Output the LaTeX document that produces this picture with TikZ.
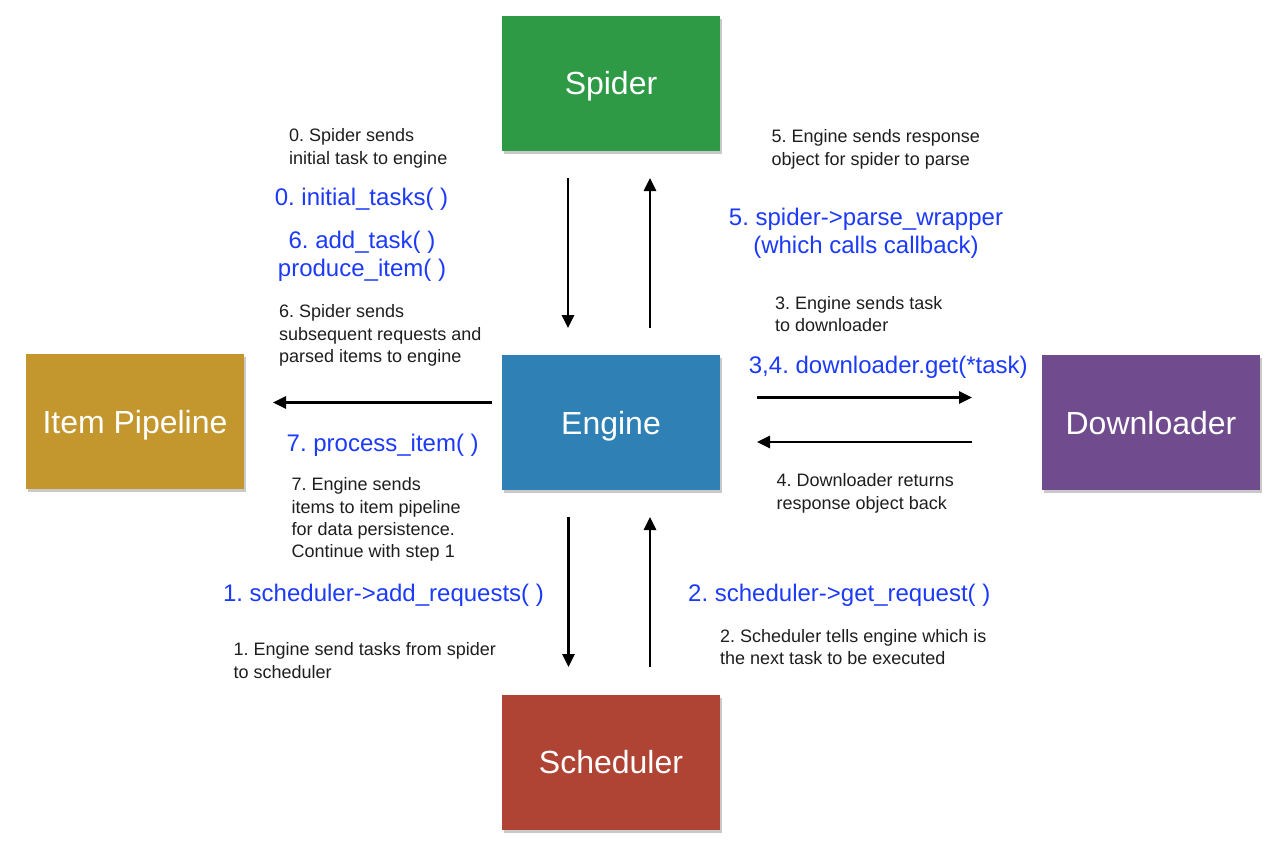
\documentclass[tikz,border=0pt]{standalone}
\usepackage{fontspec}
\setmainfont{Liberation Sans}
\usetikzlibrary{arrows.meta,shadows}
\frenchspacing
\definecolor{cspider}{RGB}{46,154,70}
\definecolor{cengine}{RGB}{47,128,181}
\definecolor{cpipe}{RGB}{196,151,46}
\definecolor{cdown}{RGB}{112,76,143}
\definecolor{csched}{RGB}{176,68,52}
\definecolor{cblue}{RGB}{28,58,250}
\definecolor{cdark}{RGB}{30,30,30}
\tikzset{
  comp/.style={rectangle, fill=#1, minimum width=218pt, minimum height=135pt,
    inner sep=0pt, text=white, font=\fontsize{32}{38}\selectfont,
    text height=23pt, text depth=0pt,
    drop shadow={shadow xshift=2pt, shadow yshift=-3pt, opacity=0.35, fill=black!60}},
  note/.style={anchor=north west, inner sep=0pt, align=left, text=cdark,
    font=\fontsize{18}{22.3}\selectfont},
  call/.style={inner sep=0pt, text=cblue, font=\fontsize{24}{28.3}\selectfont},
  flow/.style={line width=2.6pt, -{Triangle[length=13pt,width=12pt]}}
}
\begin{document}
\frenchspacing
\begin{tikzpicture}[x=1pt,y=-1pt]
\useasboundingbox (0,0) rectangle (1282,856);
\fill[white] (0,0) rectangle (1282,856);

% components
\node[comp=cspider] (spider) at (611,83.5) {Spider};
\node[comp=cengine] (engine) at (611,422.5) {Engine};
\node[comp=cpipe] (pipe) at (135,421.5) {Item Pipeline};
\node[comp=cdown] (down) at (1151,422.5) {Downloader};
\node[comp=csched] (sched) at (611,762) {Scheduler};

% arrow end points
\coordinate (sdA) at (568,178);  \coordinate (sdB) at (568,328);
\coordinate (euA) at (650,328);  \coordinate (euB) at (650,178);
\coordinate (eiA) at (492,402.5); \coordinate (eiB) at (273,402.5);
\coordinate (edA) at (757,397.5); \coordinate (edB) at (972,397.5);
\coordinate (deA) at (972,442);  \coordinate (deB) at (757,442);
\coordinate (esA) at (568.5,517); \coordinate (esB) at (568.5,667);
\coordinate (seA) at (650,667);  \coordinate (seB) at (650,517);

\draw[flow] (sdA) -- (sdB);
\draw[flow] (euA) -- (euB);
\draw[flow] (eiA) -- (eiB);
\draw[flow] (edA) -- (edB);
\draw[flow] (deA) -- (deB);
\draw[flow] (esA) -- (esB);
\draw[flow] (seA) -- (seB);

% black notes
\node[note] (n0) at (289,128.7) {0. Spider sends\\initial task to engine};
\node[note] (n6) at (279,304.7) {6. Spider sends\\subsequent requests and\\parsed items to engine};
\node[note] (n7) at (291.5,477.7) {7. Engine sends\\items to item pipeline\\for data persistence.\\Continue with step 1};
\node[note] (n1) at (233.5,642.7) {1. Engine send tasks from spider\\to scheduler};
\node[note] (n2) at (720,629.3) {2. Scheduler tells engine which is\\the next task to be executed};
\node[note] (n5) at (771.5,129.7) {5. Engine sends response\\object for spider to parse};
\node[note] (n3) at (775,296.3) {3. Engine sends task\\to downloader};
\node[note] (n4) at (776.5,473.7) {4. Downloader returns\\response object back};

% blue calls
\node[call, anchor=base] (c0) at (361.5,205) {0. initial\_tasks( )};
\node[call, anchor=north, align=center] (c6) at (362,231) {6. add\_task( )\\produce\_item( )};
\node[call, anchor=base west] (c7) at (286.5,451.7) {7. process\_item( )};
\node[call, anchor=base] (c1) at (383.5,601.7) {1. scheduler->add\_requests( )};
\node[call, anchor=base] (c2) at (839.3,601.7) {2. scheduler->get\_request( )};
\node[call, anchor=north, align=center] (c5) at (866,207.7) {5. spider->parse\_wrapper\\(which calls callback)};
\node[call, anchor=base] (c34) at (888.3,373.3) {3,4. downloader.get(*task)};
\end{tikzpicture}
\end{document}
